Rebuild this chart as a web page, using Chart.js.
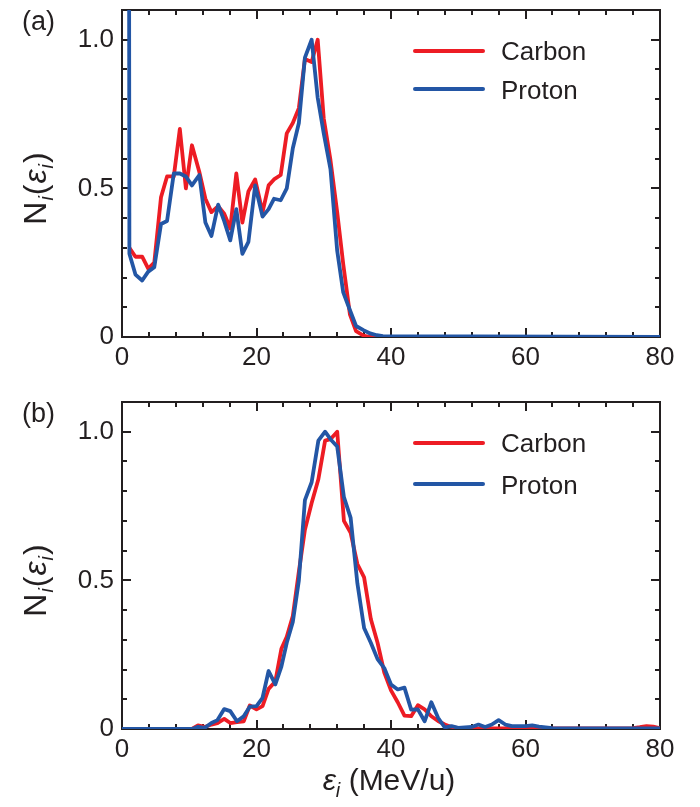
<!DOCTYPE html>
<html>
<head>
<meta charset="utf-8">
<script src="https://cdn.jsdelivr.net/npm/chart.js@4.4.0/dist/chart.umd.min.js"></script>
<style>
  body { margin: 0; background: #fff; }
  #wrap { position: relative; width: 700px; height: 807px; font-family: 'Liberation Sans', Arial, sans-serif; color: #231F20; }
  canvas { position: absolute; left: 0; }
  #ca { top: 0; }
  #cb { top: 390px; }
  .txt { position: absolute; font-size: 26px; line-height: 26px; white-space: nowrap; }
  .big { font-size: 30px; line-height: 30px; }
  .ytitle { transform: translate(-50%, -50%) rotate(-90deg); font-size: 32px; line-height: 32px; letter-spacing: 1px; }
  .xtitle { transform: translate(-50%, -50%); }
  sub { font-size: 20px; vertical-align: -7px; line-height: 0; }
  .swatch { position: absolute; width: 72px; height: 4px; border-radius: 2px; }
</style>
</head>
<body>
<div id="wrap">
  <canvas id="ca" width="700" height="390"></canvas>
  <canvas id="cb" width="700" height="417"></canvas>

  <div class="txt" style="left:22px; top:8px; font-size:27px;">(a)</div>
  <div class="txt" style="left:22px; top:400px; font-size:27px;">(b)</div>

  <div class="txt ytitle" style="left:35px; top:188px;">N<sub><i>i</i></sub>(<i>ε</i><sub><i>i</i></sub>)</div>
  <div class="txt ytitle" style="left:35px; top:580px;">N<sub><i>i</i></sub>(<i>ε</i><sub><i>i</i></sub>)</div>
  <div class="txt big xtitle" style="left:389px; top:780px;"><i>ε</i><sub><i>i</i></sub> (MeV/u)</div>

  <div class="swatch" style="left:413px; top:49px; background:#ED1C24;"></div>
  <div class="txt" style="left:501px; top:38px;">Carbon</div>
  <div class="swatch" style="left:413px; top:87px; background:#2356A5;"></div>
  <div class="txt" style="left:501px; top:77px;">Proton</div>

  <div class="swatch" style="left:413px; top:441px; background:#ED1C24;"></div>
  <div class="txt" style="left:501px; top:430px;">Carbon</div>
  <div class="swatch" style="left:413px; top:482px; background:#2356A5;"></div>
  <div class="txt" style="left:501px; top:472px;">Proton</div>
</div>

<script>
// tick positions and labels
const X_TICKS = [0, 20, 40, 60, 80];
const Y_TICKS = [0, 0.5, 1.0];
const Y_TICK_LABELS = ['0', '0.5', '1.0'];

// (a) energy bins (MeV/u)
const XA = [0.15, 1.1, 2.0, 3.0, 3.9, 4.8, 5.8, 6.7, 7.7, 8.6, 9.5, 10.4, 11.5, 12.4, 13.3,
  14.3, 15.2, 16.1, 17.0, 17.9, 18.8, 19.8, 20.9, 21.8, 22.6, 23.6, 24.5, 25.4, 26.3, 27.2,
  28.2, 29.1, 30.0, 31.0, 32.0, 32.9, 33.9, 34.8, 35.9, 36.9, 37.9, 38.8, 80];
const CARBON_A = [null, 0.30, 0.27, 0.27, 0.23, 0.25, 0.47, 0.54, 0.54, 0.70, 0.50, 0.645, 0.555,
  0.465, 0.42, 0.44, 0.415, 0.365, 0.55, 0.385, 0.49, 0.53, 0.42, 0.51, 0.53, 0.545, 0.685, 0.72,
  0.77, 0.935, 0.925, 1.0, 0.735, 0.595, 0.42, 0.245, 0.075, 0.02, 0.005, 0, 0, 0, 0];
// first proton bin is far off scale
const PROTON_A = [20, 0.28, 0.21, 0.19, 0.22, 0.235, 0.38, 0.39, 0.55, 0.55, 0.54, 0.51, 0.545,
  0.385, 0.34, 0.445, 0.39, 0.325, 0.43, 0.28, 0.32, 0.51, 0.405, 0.43, 0.465, 0.46, 0.50, 0.635,
  0.72, 0.94, 1.0, 0.805, 0.685, 0.565, 0.29, 0.15, 0.09, 0.037, 0.023, 0.012, 0.006, 0.003, 0];

// (b)
const XB = [0, 10.4, 11.3, 12.3, 13.3, 14.2, 15.2, 16.1, 17.1, 18.1, 19.0, 20.0, 20.9, 21.8, 22.8,
  23.7, 24.5, 25.4, 26.3, 27.2, 28.2, 29.2, 30.2, 31.0, 32.0, 33.0, 34.0, 35.0, 36.0, 37.0, 38.0,
  39.0, 40.0, 41.0, 42.0, 43.0, 44.0, 45.0, 46.0, 47.0, 48.0, 49.0, 50.0, 52.0, 53.0, 54.0, 55.0,
  56.0, 57.0, 58.0, 60.0, 61.0, 62.0, 64.0, 70.0, 76.0, 77.0, 78.0, 79.0, 80.0];
const CARBON_B = [0, 0, 0.012, 0.007, 0.015, 0.02, 0.034, 0.02, 0.023, 0.026, 0.079, 0.066, 0.077,
  0.135, 0.16, 0.27, 0.31, 0.38, 0.53, 0.67, 0.76, 0.84, 0.97, 0.975, 1.0, 0.70, 0.66, 0.555, 0.51,
  0.37, 0.29, 0.19, 0.13, 0.09, 0.045, 0.043, 0.08, 0.066, 0.043, 0.027, 0.015, 0.007, 0.003, 0.003,
  0.002, 0.003, 0.002, 0.002, 0.002, 0.002, 0.002, 0.002, 0.002, 0.002, 0.002, 0.003, 0.006, 0.01,
  0.008, 0.003];
const PROTON_B = [0, 0, 0.007, 0.004, 0.02, 0.03, 0.067, 0.06, 0.026, 0.043, 0.075, 0.077, 0.105,
  0.195, 0.15, 0.21, 0.29, 0.36, 0.50, 0.77, 0.83, 0.97, 1.0, 0.975, 0.95, 0.78, 0.71, 0.49, 0.34,
  0.29, 0.235, 0.205, 0.15, 0.133, 0.139, 0.065, 0.066, 0.026, 0.09, 0.038, 0.005, 0.01, 0.004,
  0.007, 0.015, 0.007, 0.015, 0.03, 0.015, 0.01, 0.01, 0.012, 0.008, 0.003, 0.002, 0.002, 0.002,
  0.002, 0.002, 0.002];

const INK = '#231F20';
const RED = '#ED1C24';
const BLUE = '#2356A5';
const FONT = { family: "'Liberation Sans', Arial, sans-serif", size: 26 };

// box frame with inward ticks on all four sides
const frameTicks = {
  id: 'frameTicks',
  beforeDatasetsDraw(chart) {
    const { ctx, chartArea: a, scales: { x, y } } = chart;
    ctx.save();
    ctx.strokeStyle = INK;
    ctx.lineWidth = 2;
    ctx.strokeRect(a.left, a.top, a.right - a.left, a.bottom - a.top);
    ctx.beginPath();
    for (let v = 0; v <= 80; v += 4) {
      const len = X_TICKS.includes(v) ? 9 : 5;
      const px = Math.round(x.getPixelForValue(v));
      ctx.moveTo(px, a.bottom); ctx.lineTo(px, a.bottom - len);
      ctx.moveTo(px, a.top); ctx.lineTo(px, a.top + len);
    }
    for (let k = 0; k <= 10; k++) {
      const len = k % 5 === 0 ? 9 : 5;
      const py = Math.round(y.getPixelForValue(k / 10));
      ctx.moveTo(a.left, py); ctx.lineTo(a.left + len, py);
      ctx.moveTo(a.right, py); ctx.lineTo(a.right - len, py);
    }
    ctx.stroke();
    ctx.restore();
  }
};

function series(xs, ys, color, order) {
  return {
    data: xs.map((x, i) => ({ x, y: ys[i] })),
    borderColor: color,
    backgroundColor: color,
    borderWidth: 3.8,
    borderJoinStyle: 'round',
    pointRadius: 0,
    tension: 0,
    fill: false,
    order,
  };
}

function makeChart(id, xs, carbon, proton, topPad, xAxisHeight) {
  return new Chart(document.getElementById(id), {
    type: 'line',
    data: {
      datasets: [
        { label: 'Carbon', ...series(xs, carbon, RED, 1) },
        { label: 'Proton', ...series(xs, proton, BLUE, 0) },
      ],
    },
    options: {
      responsive: false,
      animation: false,
      layout: { padding: { top: topPad, right: 40, left: 0, bottom: 0 } },
      plugins: { legend: { display: false }, tooltip: { enabled: false } },
      scales: {
        x: {
          type: 'linear',
          min: 0,
          max: 80,
          afterBuildTicks: s => { s.ticks = X_TICKS.map(v => ({ value: v })); },
          afterFit: s => { s.height = xAxisHeight; s.paddingLeft = 0; s.paddingRight = 0; },
          ticks: { font: FONT, color: INK, padding: 5, maxRotation: 0, autoSkip: false },
          grid: { display: false, drawTicks: false },
          border: { display: false },
        },
        y: {
          type: 'linear',
          min: 0,
          max: 1.1,
          afterBuildTicks: s => { s.ticks = Y_TICKS.map(v => ({ value: v })); },
          afterFit: s => { s.width = 122; s.paddingTop = 0; s.paddingBottom = 0; },
          ticks: { font: FONT, color: INK, padding: 8, callback: (v, i) => Y_TICK_LABELS[i] },
          grid: { display: false, drawTicks: false },
          border: { display: false },
        },
      },
    },
    plugins: [frameTicks],
  });
}

makeChart('ca', XA, CARBON_A, PROTON_A, 10, 53);
makeChart('cb', XB, CARBON_B, PROTON_B, 12, 78);
</script>
</body>
</html>
